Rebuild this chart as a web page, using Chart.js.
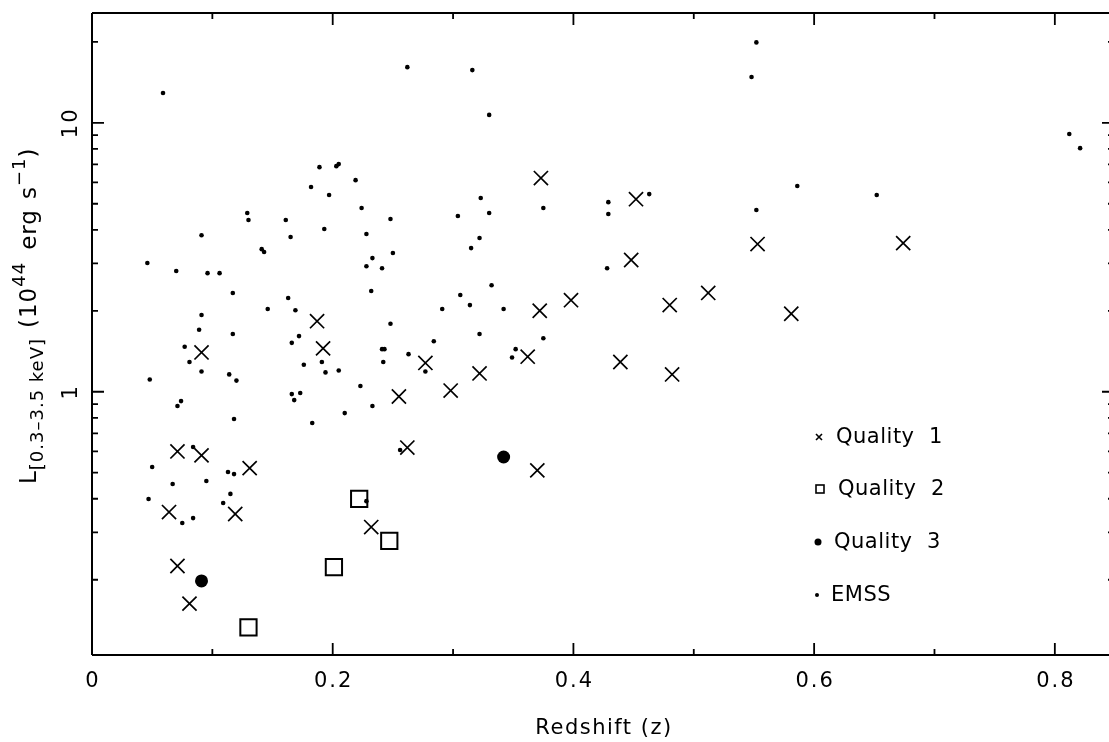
<!DOCTYPE html>
<html>
<head>
<meta charset="utf-8">
<script src="https://cdn.jsdelivr.net/npm/chart.js@4.4.0/dist/chart.umd.min.js"></script>
<style>
  html, body { margin: 0; padding: 0; background: #fff; overflow: hidden; }
  #wrap { width: 1109px; height: 742px; }
  canvas { display: block; }
</style>
</head>
<body>
<div id="wrap"><canvas id="myChart" width="1109" height="742"></canvas></div>
<script>
// DATA: redshift z and L[0.3-3.5 keV] in 1e44 erg/s
var q1Z = [0.091, 0.187, 0.192, 0.071, 0.091, 0.131, 0.064, 0.119, 0.071, 0.081,
  0.277, 0.322, 0.255, 0.298, 0.362, 0.262, 0.370, 0.232, 0.373, 0.398,
  0.372, 0.439, 0.482, 0.452, 0.448, 0.480, 0.512, 0.553, 0.581, 0.674];
var q1L = [1.40, 1.83, 1.45, 0.60, 0.58, 0.52, 0.357, 0.351, 0.225, 0.163,
  1.28, 1.17, 0.96, 1.01, 1.35, 0.62, 0.51, 0.314, 6.23, 2.19,
  2.00, 1.29, 1.16, 5.20, 3.09, 2.10, 2.33, 3.54, 1.95, 3.57];

var q2Z = [0.130, 0.201, 0.222, 0.247];
var q2L = [0.133, 0.223, 0.400, 0.279];

var q3Z = [0.091, 0.342];
var q3L = [0.198, 0.572];

var emssZ = [0.059, 0.262, 0.316, 0.330, 0.548, 0.552, 0.812, 0.821, 0.586, 0.652,
  0.552, 0.463, 0.429, 0.429, 0.428, 0.375, 0.323, 0.330, 0.304, 0.322,
  0.315, 0.332, 0.306, 0.314, 0.342, 0.291, 0.284, 0.322, 0.375, 0.263,
  0.241, 0.243, 0.242, 0.352, 0.349, 0.219, 0.224, 0.248, 0.228, 0.250,
  0.233, 0.228, 0.241, 0.232, 0.248, 0.046, 0.070, 0.091, 0.096, 0.106,
  0.117, 0.129, 0.130, 0.141, 0.143, 0.161, 0.165, 0.182, 0.189, 0.203,
  0.205, 0.197, 0.193, 0.146, 0.163, 0.169, 0.091, 0.089, 0.117, 0.077,
  0.166, 0.172, 0.081, 0.091, 0.048, 0.114, 0.120, 0.074, 0.071, 0.118,
  0.176, 0.191, 0.194, 0.205, 0.166, 0.173, 0.168, 0.183, 0.210, 0.223,
  0.233, 0.277, 0.256, 0.050, 0.067, 0.047, 0.084, 0.095, 0.113, 0.118,
  0.115, 0.109, 0.075, 0.084, 0.228];
var emssL = [12.9, 16.1, 15.7, 10.7, 14.8, 19.9, 9.08, 8.05, 5.82, 5.39,
  4.74, 5.43, 5.07, 4.58, 2.88, 4.82, 5.25, 4.62, 4.50, 3.73,
  3.42, 2.49, 2.29, 2.10, 2.03, 2.03, 1.54, 1.64, 1.58, 1.38,
  1.44, 1.44, 1.29, 1.44, 1.34, 6.12, 4.82, 4.39, 3.86, 3.28,
  3.14, 2.93, 2.88, 2.37, 1.79, 3.01, 2.81, 3.82, 2.76, 2.76,
  2.33, 4.62, 4.35, 3.39, 3.31, 4.35, 3.76, 5.77, 6.84, 6.90,
  7.02, 5.39, 4.03, 2.03, 2.23, 2.01, 1.93, 1.70, 1.64, 1.47,
  1.52, 1.61, 1.29, 1.19, 1.11, 1.16, 1.10, 0.923, 0.885, 0.792,
  1.26, 1.29, 1.18, 1.20, 0.980, 0.989, 0.931, 0.765, 0.833, 1.05,
  0.885, 1.19, 0.607, 0.525, 0.454, 0.399, 0.623, 0.466, 0.503, 0.494,
  0.417, 0.386, 0.325, 0.339, 0.392];

var xTicks = [0, 0.2, 0.4, 0.6, 0.8];
var xTickLabels = ["0", "0.2", "0.4", "0.6", "0.8"];
var yTicks = [1, 10];
var yTickLabels = ["1", "10"];
var legendLabels = ["Quality  1", "Quality  2", "Quality  3", "EMSS"];

function pts(xs, ys) {
  return xs.map(function (x, i) { return { x: x, y: ys[i] }; });
}

var FONT = '"DejaVu Sans", sans-serif';

// axes, ticks, labels and legend drawn by hand (ticks point inward)
var framePlugin = {
  id: "frame",
  afterDraw: function (chart) {
    var ctx = chart.ctx;
    var a = chart.chartArea;
    var xs = chart.scales.x, ys = chart.scales.y;
    // right axis sits just past the picture edge
    var rightAxis = a.right + 5;
    ctx.save();
    ctx.strokeStyle = "#000";
    ctx.fillStyle = "#000";
    ctx.lineWidth = 2;
    ctx.beginPath();
    ctx.moveTo(a.left, a.top); ctx.lineTo(a.right, a.top);
    ctx.moveTo(a.left, a.top); ctx.lineTo(a.left, a.bottom);
    ctx.moveTo(a.left, a.bottom); ctx.lineTo(a.right, a.bottom);
    ctx.stroke();

    // x ticks every 0.1, long every 0.2
    ctx.lineWidth = 1.8;
    ctx.beginPath();
    for (var i = 1; i <= 8; i++) {
      var px = xs.getPixelForValue(i * 0.1);
      var len = i % 2 == 0 ? 12 : 6;
      ctx.moveTo(px, a.bottom); ctx.lineTo(px, a.bottom - len);
      ctx.moveTo(px, a.top); ctx.lineTo(px, a.top + len);
    }
    // y ticks: log minor ticks
    for (var d = -1; d <= 1; d++) {
      for (var m = 1; m <= 9; m++) {
        var v = m * Math.pow(10, d);
        if (v < ys.min || v > ys.max) continue;
        var py = ys.getPixelForValue(v);
        var l2 = m == 1 ? 12 : 6;
        ctx.moveTo(a.left, py); ctx.lineTo(a.left + l2, py);
        ctx.moveTo(rightAxis, py); ctx.lineTo(rightAxis - l2, py);
      }
    }
    ctx.stroke();

    // x tick labels
    ctx.font = "21px " + FONT;
    ctx.letterSpacing = "2px";
    ctx.textAlign = "center";
    ctx.textBaseline = "alphabetic";
    xTicks.forEach(function (t, k) {
      ctx.fillText(xTickLabels[k], xs.getPixelForValue(t) + 1, 687);
    });
    // y tick labels (rotated)
    yTicks.forEach(function (t, k) {
      ctx.save();
      ctx.translate(77, ys.getPixelForValue(t));
      ctx.rotate(-Math.PI / 2);
      ctx.fillText(yTickLabels[k], 0, 0);
      ctx.restore();
    });

    // x title
    ctx.font = "21px " + FONT;
    ctx.letterSpacing = "1.5px";
    ctx.fillText("Redshift (z)", 604, 734);

    // y title (rotated, with sub/superscripts)
    ctx.save();
    ctx.translate(36, 484);
    ctx.rotate(-Math.PI / 2);
    ctx.textAlign = "left";
    ctx.letterSpacing = "1px";
    var x = 0;
    function part(txt, size, dy, gap) {
      ctx.font = size + "px " + FONT;
      ctx.fillText(txt, x, dy);
      x += ctx.measureText(txt).width + (gap || 0);
    }
    part("L", 23, 0);
    part("[0.3\u20133.5 keV]", 18, 7, 10);
    part("(10", 23, 0);
    part("44", 18, -11, 12);
    part("erg", 23, 0, 10);
    part("s", 23, 0);
    part("\u22121", 18, -11);
    part(")", 23, 0);
    ctx.restore();

    // legend
    var lx = [836, 838, 834, 831];
    var ly = [437, 489, 542, 595];
    ctx.font = "21px " + FONT;
    ctx.letterSpacing = "0.5px";
    ctx.textAlign = "left";
    ctx.textBaseline = "middle";
    legendLabels.forEach(function (t, k) {
      ctx.fillText(t, lx[k], ly[k] + 1);
    });
    ctx.lineWidth = 1.6;
    ctx.beginPath();
    ctx.moveTo(816, 434); ctx.lineTo(822, 440);
    ctx.moveTo(822, 434); ctx.lineTo(816, 440);
    ctx.stroke();
    ctx.strokeRect(816, 485, 8, 8);
    ctx.beginPath(); ctx.arc(818, 542, 3.5, 0, Math.PI * 2); ctx.fill();
    ctx.beginPath(); ctx.arc(817, 595, 2, 0, Math.PI * 2); ctx.fill();
    ctx.restore();
  }
};

new Chart("myChart", {
  type: "scatter",
  data: {
    datasets: [
      {
        label: "Quality 1",
        data: pts(q1Z, q1L),
        pointStyle: "crossRot",
        radius: 10,
        borderWidth: 1.7,
        borderColor: "#000",
      },
      {
        label: "Quality 2",
        data: pts(q2Z, q2L),
        pointStyle: "rect",
        radius: 11.5,
        borderWidth: 2,
        borderColor: "#000",
        backgroundColor: "rgba(0,0,0,0)",
      },
      {
        label: "Quality 3",
        data: pts(q3Z, q3L),
        pointStyle: "circle",
        radius: 6.5,
        borderWidth: 0,
        backgroundColor: "#000",
      },
      {
        label: "EMSS",
        data: pts(emssZ, emssL),
        pointStyle: "circle",
        radius: 2.3,
        borderWidth: 0,
        backgroundColor: "#000",
      },
    ],
  },
  options: {
    responsive: false,
    devicePixelRatio: 1,
    animation: false,
    layout: { autoPadding: false, padding: { left: 92, top: 13, right: 0, bottom: 87 } },
    plugins: { legend: { display: false }, tooltip: { enabled: false } },
    scales: {
      x: { type: "linear", min: 0, max: 0.845, display: false },
      y: { type: "logarithmic", min: 0.105, max: 25.6, display: false },
    },
  },
  plugins: [framePlugin],
});
</script>
</body>
</html>
